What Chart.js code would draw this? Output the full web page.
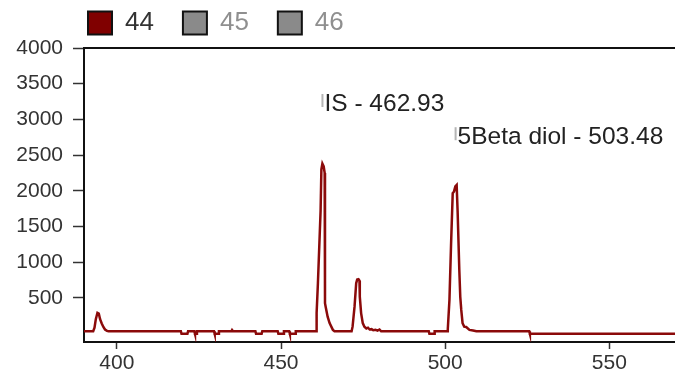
<!DOCTYPE html>
<html><head><meta charset="utf-8">
<script src="https://cdn.jsdelivr.net/npm/chart.js@4.4.1/dist/chart.umd.min.js"></script>
<style>html,body{margin:0;padding:0;background:#fff;} canvas{display:block;}</style>
</head><body>
<canvas id="c" width="675" height="377"></canvas>
<script>
const seriesNames = ['44', '45', '46'];
const seriesColors = ['#800000', '#8a8a8a', '#8a8a8a'];
const legendTextColors = ['#333333', '#8f8f8f', '#8f8f8f'];

const mass = [
  389.6, 392.8, 393.2, 393.6, 394.1, 394.5, 394.9, 395.4, 395.9, 396.4, 397.0, 397.5,
  419.5, 419.7, 421.5, 421.7, 423.6, 423.8, 424.2, 424.4, 429.6, 429.8, 430.9, 431.1,
  434.9, 435.1, 435.4, 442.2, 442.4, 444.1, 444.3, 449.0, 449.2, 450.7, 450.9,
  452.5, 452.7, 454.3, 454.5,
  460.75, 460.85, 461.24, 462.06, 462.3, 462.6, 463.0, 463.3, 463.4, 463.6, 464.2, 464.8, 465.8, 466.3,
  471.5, 471.8, 472.4, 472.9, 473.2, 473.6, 473.9, 474.0, 474.4, 474.9, 475.4, 476.0, 476.5, 477.0,
  477.6, 478.1, 478.8, 479.4, 480.0, 480.5,
  495.0, 495.2, 496.6, 496.8,
  500.6, 500.8, 501.3, 501.8, 502.3, 502.7, 503.1, 503.5, 503.8, 504.3, 504.6, 504.9, 505.3, 505.8,
  506.4, 507.4, 508.5, 509.5,
  525.6, 525.8, 570
];
const signal44 = [
  30, 30, 80, 200, 290, 280, 200, 140, 90, 55, 36, 30,
  30, -6, -6, 30, 30, -6, -6, 30, 30, -6, -6, 30,
  30, 48, 30, 30, -6, -6, 30, 30, -6, -6, 30,
  30, -6, -6, 30,
  30, 290, 700, 1720, 2300, 2380, 2340, 2250, 425, 375, 235, 145, 50, 30,
  30, 95, 375, 705, 755, 760, 740, 515, 285, 145, 95, 70, 80, 55,
  60, 45, 50, 40, 55, 30,
  30, -6, -6, 30,
  30, 60, 467, 1258, 1965, 1990, 2060, 2080, 1700, 900, 513, 330, 143, 95,
  90, 50, 40, 30,
  30, -6, -6
];

const xTicks = [400, 450, 500, 550];
const yTicks = [500, 1000, 1500, 2000, 2500, 3000, 3500, 4000];

const peakLabelX = [462.93, 503.48];
const peakLabelY = [3215, 2750];
const peakLabelText = ['IS - 462.93', '5Beta diol - 503.48'];

const FONT = '"Liberation Sans", Arial, sans-serif';
Chart.defaults.font.family = FONT;

const points = mass.map((m, i) => ({ x: m, y: signal44[i] }));

const legendShift = {
  id: 'legendShift',
  beforeDraw(chart) {
    const lg = chart.legend;
    lg.left = 59;
    lg.top = -19;
  }
};

const frameAndLabels = {
  id: 'frameAndLabels',
  afterDraw(chart) {
    const { ctx, chartArea, scales } = chart;
    ctx.save();
    ctx.strokeStyle = '#111';
    ctx.lineWidth = 2;
    ctx.beginPath();
    ctx.moveTo(chartArea.left - 1, chartArea.top);
    ctx.lineTo(chartArea.right, chartArea.top);
    ctx.stroke();

    ctx.font = '24.5px ' + FONT;
    ctx.textBaseline = 'middle';
    ctx.textAlign = 'left';
    peakLabelText.forEach((t, i) => {
      const px = scales.x.getPixelForValue(peakLabelX[i]);
      const py = scales.y.getPixelForValue(peakLabelY[i]);
      ctx.fillStyle = '#b5b5b5';
      ctx.fillRect(px - 2, py - 10, 2, 13);
      ctx.fillStyle = '#222';
      ctx.fillText(t, px + 1, py);
    });
    ctx.restore();
  }
};

new Chart(document.getElementById('c'), {
  type: 'line',
  data: {
    datasets: [
      { label: seriesNames[0], data: points, borderColor: '#8b0a0a', backgroundColor: seriesColors[0], borderWidth: 2.5, pointRadius: 0, tension: 0, fill: false },
      { label: seriesNames[1], data: [], borderColor: seriesColors[1], backgroundColor: seriesColors[1], pointRadius: 0 },
      { label: seriesNames[2], data: [], borderColor: seriesColors[2], backgroundColor: seriesColors[2], pointRadius: 0 }
    ]
  },
  options: {
    responsive: false,
    animation: false,
    devicePixelRatio: 1,
    layout: { padding: { top: -17, left: 0, right: 0, bottom: 0 } },
    plugins: {
      tooltip: { enabled: false },
      legend: {
        display: true,
        position: 'top',
        align: 'start',
        labels: {
          boxWidth: 24,
          boxHeight: 23,
          padding: 29,
          font: { size: 26, family: FONT },
          generateLabels: () => seriesNames.map((n, i) => ({
            text: n,
            fillStyle: seriesColors[i],
            strokeStyle: '#111',
            lineWidth: 2,
            fontColor: legendTextColors[i],
            hidden: false,
            datasetIndex: i
          }))
        }
      }
    },
    scales: {
      x: {
        type: 'linear',
        min: 390,
        max: 570,
        afterBuildTicks: (axis) => { axis.ticks = xTicks.map(v => ({ value: v })); },
        afterFit: (axis) => { axis.height = 35; },
        grid: { drawOnChartArea: false, drawTicks: true, tickLength: 7, tickColor: '#333', tickWidth: 1.5 },
        border: { display: true, color: '#111', width: 2 },
        ticks: { color: '#333', font: { size: 21 }, padding: 2, maxRotation: 0, callback: (v) => String(v) }
      },
      y: {
        type: 'linear',
        min: -120,
        max: 4000,
        afterBuildTicks: (axis) => { axis.ticks = yTicks.map(v => ({ value: v })); },
        afterFit: (axis) => { axis.width = 84; },
        grid: { drawOnChartArea: false, drawTicks: true, tickLength: 11, tickColor: '#333', tickWidth: 1.5 },
        border: { display: true, color: '#111', width: 2 },
        ticks: { color: '#333', font: { size: 21 }, padding: 10, callback: (v) => String(v) }
      }
    }
  },
  plugins: [legendShift, frameAndLabels]
});
</script>
</body></html>
